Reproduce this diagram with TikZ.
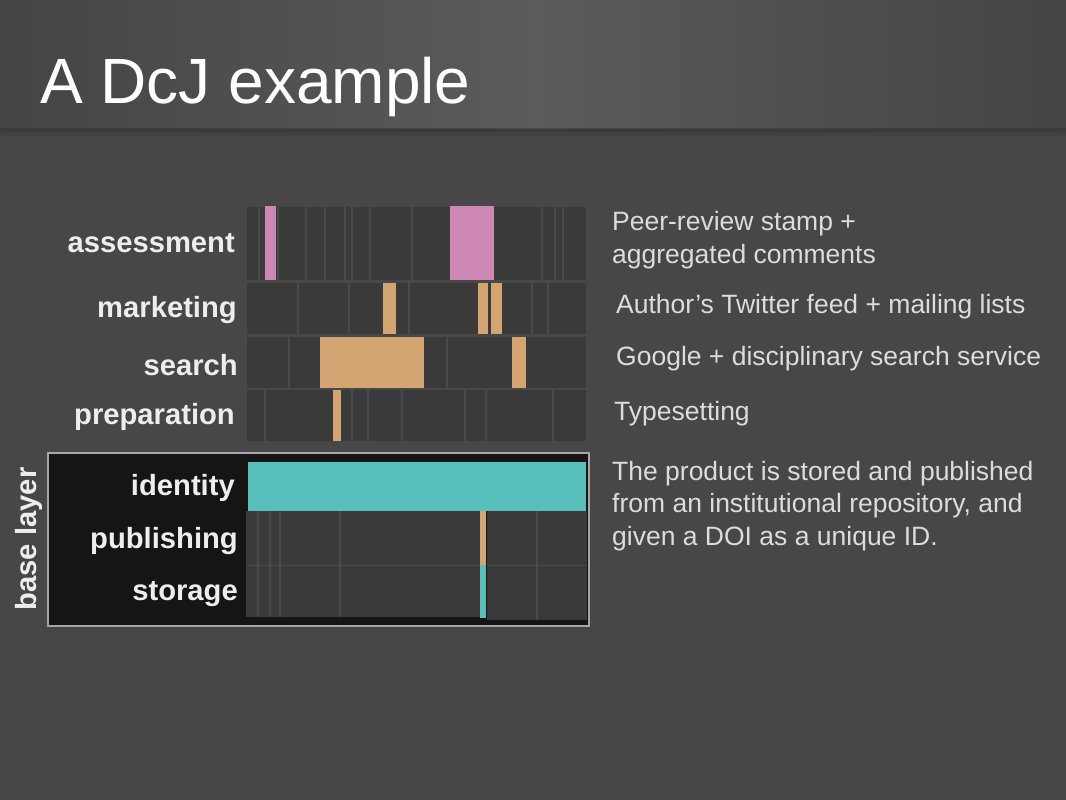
\documentclass[tikz,border=0pt]{standalone}
\usepackage{fontspec}
\setmainfont{Liberation Sans}
\definecolor{bg}{HTML}{474747}
\definecolor{bandedge}{HTML}{444444}
\definecolor{bandmid}{HTML}{5B5B5B}
\definecolor{cellc}{HTML}{3A3A3A}
\definecolor{sepc}{HTML}{4A4A4A}
\definecolor{pinkc}{HTML}{CD88B5}
\definecolor{tanc}{HTML}{D3A572}
\definecolor{tealc}{HTML}{58BFBB}
\definecolor{basec}{HTML}{151515}
\definecolor{framec}{HTML}{A6A6A6}
\definecolor{labc}{HTML}{EDEDED}
\definecolor{descc}{HTML}{DCDCDC}
\tikzset{
  rowcell/.style={fill=cellc},
  sepline/.style={draw=sepc,line width=2pt},
  lab/.style={font=\bfseries\fontsize{29.2}{30}\selectfont,text=labc,anchor=base east,inner sep=0pt},
  desc/.style={font=\fontsize{26.5}{32.3}\selectfont,text=descc,anchor=base west,inner sep=0pt,align=left},
}
\begin{document}
\begin{tikzpicture}[x=1pt,y=-1pt]
\useasboundingbox (0,0) rectangle (1066,800);
% background
\fill[bg] (0,0) rectangle (1066,800);
\shade[left color=bandedge,right color=bandedge,middle color=bandmid] (0,0) rectangle (1066,128);
\fill[black,opacity=0.18] (0,128) rectangle (1066,132);
\fill[black,opacity=0.08] (0,132) rectangle (1066,136);
\node[font=\fontsize{64}{70}\selectfont,text=white,anchor=base west,inner sep=0pt] (title) at (40,103) {A DcJ example};

% ---- assessment row
\fill[rowcell] (247,207) rectangle (586,280);
\foreach \x in {259,278,306,325,345,352,370,412,542,555,563}
  \draw[sepline] (\x,207) -- (\x,280);
\fill[pinkc] (265,206) rectangle (276,280);
\fill[pinkc] (450,206) rectangle (494,280);
% ---- marketing row
\fill[rowcell] (247,283) rectangle (586,334);
\foreach \x in {298,349,409,532,548}
  \draw[sepline] (\x,283) -- (\x,334);
\fill[tanc] (383,283) rectangle (396,334);
\fill[tanc] (478,283) rectangle (488,334);
\fill[tanc] (491,283) rectangle (502,334);
% ---- search row
\fill[rowcell] (247,337) rectangle (586,388);
\foreach \x in {289,447}
  \draw[sepline] (\x,337) -- (\x,388);
\fill[tanc] (320,337) rectangle (424,388);
\fill[tanc] (512,337) rectangle (526,388);
% ---- preparation row
\fill[rowcell] (247,390) rectangle (586,441);
\foreach \x in {265,352,368,402,465,486,553}
  \draw[sepline] (\x,390) -- (\x,441);
\fill[tanc] (333,390) rectangle (341,441);

% ---- base layer
\draw[draw=framec,line width=2.5pt,fill=basec] (48,453) rectangle (589,626);
\fill[cellc] (246,511) rectangle (480,617);
\fill[cellc] (487,511) rectangle (587,620);
\foreach \x in {258,270,280,340}
  \draw[sepline,line width=1.5pt] (\x,511) -- (\x,617);
\draw[sepline,line width=1.5pt] (537,511) -- (537,620);
\draw[draw=sepc,line width=1pt] (246,565) -- (480,565);
\draw[draw=sepc,line width=1pt] (487,565) -- (587,565);
\fill[tealc] (248,462) rectangle (586,511);
\fill[tanc] (480,511) rectangle (486,565);
\fill[tealc] (480,565) rectangle (486,618);

% ---- labels
\node[lab] (assessment) at (235,252) {assessment};
\node[lab] (marketing) at (237,317) {marketing};
\node[lab] (search) at (238,375) {search};
\node[lab] (preparation) at (235,424) {preparation};
\node[lab] (identity) at (235,495) {identity};
\node[lab] (publishing) at (238,548) {publishing};
\node[lab] (storage) at (238,600) {storage};
\node[font=\bfseries\fontsize{29.2}{30}\selectfont,text=labc,rotate=90,anchor=base,inner sep=0pt] (baselayer) at (36,539) {base layer};

% ---- descriptions (base anchor = baseline of the last line)
\node[desc] (d1) at (612,263) {Peer-review stamp +\\aggregated comments};
\node[desc] (d2) at (616,313) {Author’s Twitter feed + mailing lists};
\node[desc] (d3) at (616,365) {Google + disciplinary search service};
\node[desc] (d4) at (614,420) {Typesetting};
\node[desc] (d5) at (612,545) {The product is stored and published\\from an institutional repository, and\\given a DOI as a unique ID.};
\end{tikzpicture}
\end{document}
